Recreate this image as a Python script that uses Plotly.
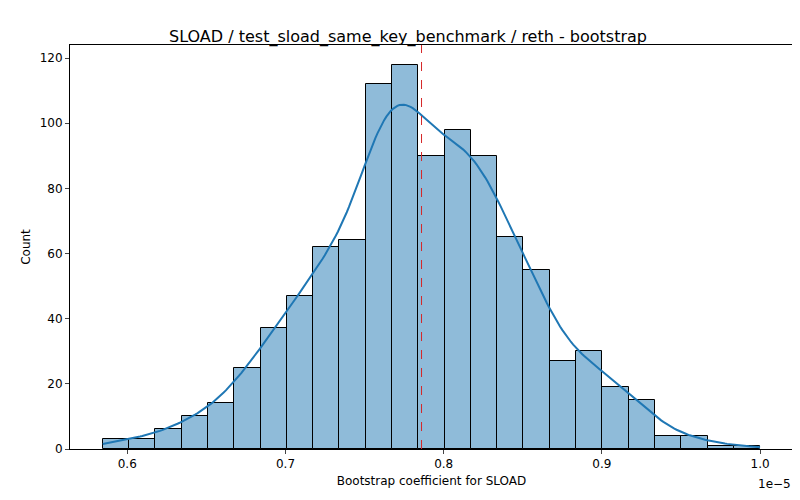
import numpy as np
import plotly.graph_objects as go

# histogram bins (values in units of 1e-5)
bin_start = 0.5845
bin_end = 1.0
counts = [3, 3, 6, 10, 14, 25, 37, 47, 62, 64, 112, 118, 90, 98, 90,
          65, 55, 27, 30, 19, 15, 4, 4, 1, 1]
mean_line = 0.786
x_ticks = [0.6, 0.7, 0.8, 0.9, 1.0]
y_ticks = [0, 20, 40, 60, 80, 100, 120]

n_bins = len(counts)
width = (bin_end - bin_start) / n_bins
edges = np.linspace(bin_start, bin_end, n_bins + 1)
centers = (edges[:-1] + edges[1:]) / 2
c = np.array(counts, dtype=float)

# weighted gaussian kde, scott bandwidth
n = c.sum()
mu = (centers * c).sum() / n
sd = np.sqrt(((centers - mu) ** 2 * c).sum() / n)
bw = sd * n ** (-1 / 5)
xs = np.linspace(bin_start, bin_end, 300)
dens = (c[None, :] * np.exp(-0.5 * ((xs[:, None] - centers[None, :]) / bw) ** 2)).sum(1)
dens = dens / (n * bw * np.sqrt(2 * np.pi)) * n * width

fig = go.Figure()
fig.add_trace(go.Bar(x=centers, y=counts, width=width,
                     marker=dict(color="rgba(31,119,180,0.5)", line=dict(color="black", width=1))))
fig.add_trace(go.Scatter(x=xs, y=dens, mode="lines", line=dict(color="#1f77b4", width=2)))
fig.add_shape(type="line", x0=mean_line, x1=mean_line, y0=0, y1=1, yref="paper", layer="above",
              line=dict(color="#d62728", width=1, dash="dash"))

fig.update_layout(
    width=800, height=500, showlegend=False, bargap=0,
    margin=dict(l=62, r=15, t=37, b=59, autoexpand=False),
    plot_bgcolor="white", paper_bgcolor="white",
    font=dict(family="DejaVu Sans", size=12, color="black"),
    title=dict(text="SLOAD / test_sload_same_key_benchmark / reth - bootstrap",
               x=0.5, xanchor="center", y=0.955, font=dict(size=16)),
    xaxis=dict(range=[0.5638, 1.0208], tickvals=x_ticks, ticktext=["0.6", "0.7", "0.8", "0.9", "1.0"],
               showgrid=False, zeroline=False, showline=True, linecolor="black", linewidth=1, mirror=True,
               ticks="outside", ticklen=4, automargin=False,
               title=dict(text="Bootstrap coefficient for SLOAD", standoff=6, font=dict(size=12))),
    yaxis=dict(range=[0, 124], tickvals=y_ticks, showgrid=False, zeroline=False,
               showline=True, linecolor="black", linewidth=1, mirror=True, ticks="outside", ticklen=4,
               automargin=False, title=dict(text="Count", standoff=6, font=dict(size=12))),
    annotations=[dict(text="1e−5", x=1, y=-0.065, xref="paper", yref="paper",
                      xanchor="right", yanchor="top", showarrow=False, font=dict(size=12))],
)
fig.write_html("out.html")
